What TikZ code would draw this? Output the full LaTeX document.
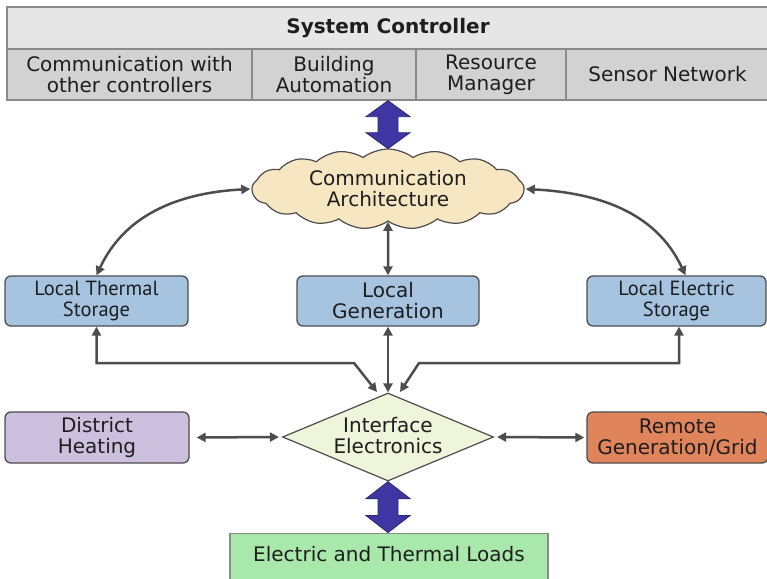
\documentclass[tikz,border=0pt]{standalone}
\usepackage{fontspec}
\setmainfont{DejaVu Sans}
\newfontfamily\narrowfont{PT Sans}
\usetikzlibrary{shapes.geometric,shapes.symbols,arrows.meta,calc}
\definecolor{hdrA}{HTML}{E6E6E6}
\definecolor{hdrB}{HTML}{D2D2D2}
\definecolor{hdrline}{HTML}{8A8A8A}
\definecolor{fatblue}{HTML}{3D36A3}
\definecolor{fatline}{HTML}{2A2A72}
\definecolor{cloudfill}{HTML}{F6E7C2}
\definecolor{boxblue}{HTML}{A6C3E0}
\definecolor{lavender}{HTML}{CCC0DE}
\definecolor{diafill}{HTML}{EEF5DA}
\definecolor{orangefill}{HTML}{E0845C}
\definecolor{loadfill}{HTML}{A9E8AB}
\definecolor{conncol}{HTML}{4D4D4D}
\definecolor{txt}{HTML}{1E1E1E}
\begin{document}
\begin{tikzpicture}[x=1pt,y=-1pt,
  every node/.style={text=txt, font=\fontsize{20}{21}\selectfont, align=center},
  hdrcell/.style={draw=hdrline, line width=1.3pt, fill=hdrB, minimum height=51pt, inner sep=0pt},
  bluebox/.style={draw=conncol, line width=1.3pt, fill=boxblue, rounded corners=6pt, minimum height=50pt, inner sep=0pt},
  sidebox/.style={draw=conncol, line width=1.3pt, rounded corners=6pt, minimum height=51pt, inner sep=0pt},
  narrowtxt/.style={font=\narrowfont\fontsize{20.5}{20.5}\selectfont},
  conn/.style={draw=conncol, line width=2.5pt, {Triangle[length=9pt,width=9pt]}-{Triangle[length=9pt,width=9pt]}},
  fat/.style={fill=fatblue, draw=fatline, line width=0.8pt, line join=miter}
]
\useasboundingbox (0,0) rectangle (767,578);
\fill[white] (0,0) rectangle (767,578);
\begin{scope}
\clip (0,0) rectangle (767,578);
% header
\node[draw=hdrline, line width=1.3pt, fill=hdrA, minimum width=762pt, minimum height=42pt, inner sep=0pt] (sc) at (388,28) {};
\node[font=\bfseries\fontsize{20}{21}\selectfont] (sctext) at (388,28) {System Controller};
\node[hdrcell, minimum width=245pt] (c1) at (129.5,74.5) {Communication with\\other controllers};
\node[hdrcell, minimum width=164pt] (c2) at (334,74.5) {Building\\Automation};
\node[hdrcell, minimum width=150pt] (c3) at (491,74.5) {Resource\\Manager};
\node[hdrcell, minimum width=203pt] (c4) at (667.5,74.5) {Sensor Network};

% cloud
\node[cloud, cloud puffs=17, cloud puff arc=75, aspect=3.4, draw=conncol, line width=1.2pt, fill=cloudfill,
      minimum width=272pt, minimum height=80pt, inner sep=0pt] (ca) at (388,189) {};
\node (catext) at (388,189) {Communication\\Architecture};

% local boxes
\node[bluebox, narrowtxt, minimum width=183pt] (ths) at (96.5,301) {Local Thermal\\Storage};
\node[bluebox, minimum width=182pt] (lg) at (388,301) {Local\\Generation};
\node[bluebox, narrowtxt, minimum width=179pt] (les) at (676.5,301) {Local Electric\\Storage};

% diamond
\node[diamond, aspect=2.4, draw=conncol, line width=1.2pt, fill=diafill, minimum width=211pt, minimum height=88pt, inner sep=0pt] (ie) at (388,437) {};
\node (ietext) at (388,436) {Interface\\Electronics};

% side boxes
\node[sidebox, fill=lavender, minimum width=184pt] (dh) at (97,437.5) {District\\Heating};
\node[sidebox, fill=orangefill, minimum width=181pt] (rg) at (677.5,437.5) {Remote\\Generation/Grid};

% loads
\node[draw=hdrline, line width=1.3pt, fill=loadfill, minimum width=318pt, minimum height=60pt, inner sep=0pt, anchor=north] (loads) at (389,533) {};
\node (loadtext) at ($(loads.north)+(0,21)$) {Electric and Thermal Loads};

% fat arrows
\coordinate (fa1) at (ca.north |- c2.south);
\filldraw[fat] (fa1) -- ++(22,16) -- ++(-12,0) -- ++(0,16) -- ++(12,0) -- ++(-22,16) -- ++(-22,-16) -- ++(12,0) -- ++(0,-16) -- ++(-12,0) -- cycle;
\coordinate (fa2) at (ie.south);
\filldraw[fat] (fa2) -- ++(22,17) -- ++(-12,0) -- ++(0,17) -- ++(12,0) -- ++(-22,17) -- ++(-22,-17) -- ++(12,0) -- ++(0,-17) -- ++(-12,0) -- cycle;

% connectors
\draw[conn] ([xshift=-1pt]ca.west) to[out=183,in=65] (ths.north);
\draw[conn] ([xshift=1pt]ca.east) to[out=-3,in=115] ([xshift=9pt]les.north);
\draw[conn] (ca.south) -- (lg.north);
\coordinate (tbl) at (354,363);
\coordinate (dtl) at (377,392);
\coordinate (tbr) at (419,363);
\coordinate (dtr) at (400,392);
\draw[conn] (ths.south) |- (tbl) -- (dtl);
\draw[conn] ([xshift=2.5pt]les.south) |- (tbr) -- (dtr);
\draw[conn] (lg.south) -- (ie.north);
\draw[conn, shorten <=7pt, shorten >=3pt] (dh.east) -- (ie.west);
\draw[conn, shorten <=2pt, shorten >=3pt] (rg.west) -- (ie.east);
\end{scope}
\end{tikzpicture}
\end{document}
